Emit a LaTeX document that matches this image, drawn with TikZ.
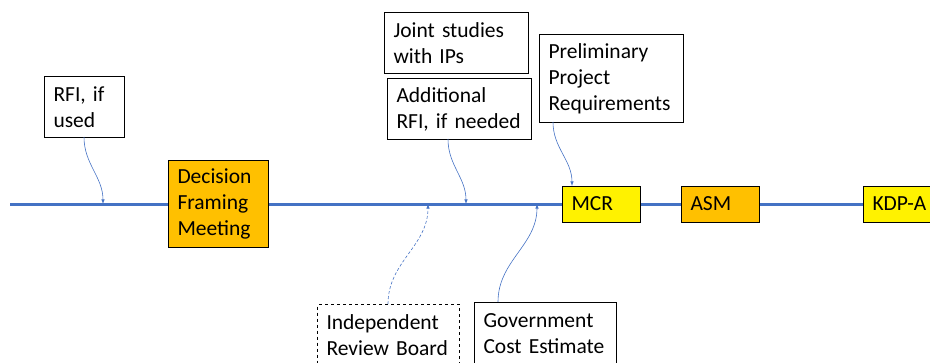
\documentclass[tikz,border=0pt]{standalone}
\usepackage{fontspec}
\setmainfont{Carlito}
\begin{document}
\begin{tikzpicture}
    [
    x=1pt,y=-1pt,
    font=\fontsize{21.5}{26}\selectfont,
    note/.style={draw,line width=1pt,anchor=north west,inner xsep=9pt,inner ysep=0pt,align=left},
    milestone/.style={draw,line width=1pt,inner xsep=9pt,inner ysep=0pt,align=left,anchor=west},
    timeline/.style={line width=3pt,draw={rgb,255:red,68;green,114;blue,196}},
    feed/.style={-latex,line width=0.6pt,draw={rgb,255:red,68;green,114;blue,196}}
    ]
    \clip (0,0) rectangle (930,362);
    \useasboundingbox (0,0) rectangle (930,362);
    \node (RFI) at (44,76) [note,text width=62pt,minimum height=61pt] {RFI, if\\used};
    \node (JS) at (384,12) [note,text width=126pt,minimum height=61pt] {Joint studies\\with IPs};
    \node (ARFI) at (387,78) [note,text width=126pt,minimum height=61pt] {Additional\\RFI, if needed};
    \node (PPR) at (539,34) [note,text width=126pt,minimum height=88pt] {Preliminary\\Project\\Requirements};
    \node (IRB) at (317,304) [note,dashed,text width=124pt,minimum height=62pt] {Independent\\Review Board};
    \node (GCE) at (474,302) [note,text width=124pt,minimum height=62pt] {Government\\Cost Estimate};
    \node (DFM) at (168,204) [milestone,fill={rgb,255:red,255;green,192;blue,0},text width=82pt,minimum height=87pt] {Decision\\Framing\\Meeting};
    \node (MCR) at (562,204) [milestone,fill=yellow,text width=60pt,minimum height=36pt] {MCR};
    \node (ASM) at (681,204) [milestone,fill={rgb,255:red,255;green,192;blue,0},text width=60pt,minimum height=36pt] {ASM};
    \node (KDP) at (863,204) [milestone,fill=yellow,text width=70pt,minimum height=36pt] {KDP-A};
    \coordinate (T0) at (10,204);
    % feed points on the timeline
    \coordinate (rfiin) at (103,204);
    \coordinate (irbin) at (428,204);
    \coordinate (arfiin) at (466,204);
    \coordinate (gcein) at (537,204);
    \coordinate (mcrin) at (572,186);
    % feed points on the boxes
    \coordinate (rfiout) at (84,137);
    \coordinate (arfiout) at (448,139);
    \coordinate (pprout) at (553,122);
    \coordinate (irbout) at (388,304);
    \coordinate (gceout) at (498,302);
    \draw [timeline] (T0) to (DFM);
    \draw [timeline] (DFM) to (MCR);
    \draw [timeline] (MCR) to (ASM);
    \draw [timeline] (ASM) to (KDP);
    \draw [feed] (rfiout) to[out=-90,in=90] (rfiin);
    \draw [feed] (arfiout) to[out=-90,in=90] (arfiin);
    \draw [feed] (pprout) to[out=-90,in=90] (mcrin);
    \draw [feed,densely dashed] (irbout) to[out=90,in=-90] (irbin);
    \draw [feed] (gceout) to[out=90,in=-90] (gcein);
  \end{tikzpicture}
\end{document}
